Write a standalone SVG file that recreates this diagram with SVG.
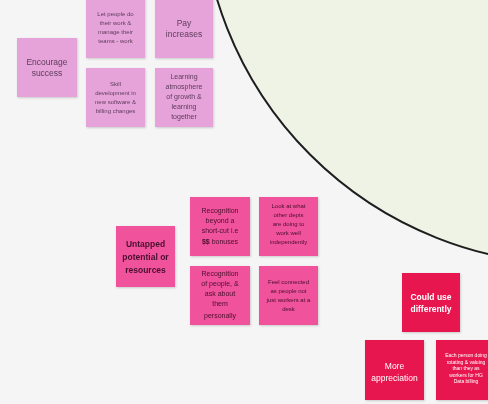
<svg xmlns="http://www.w3.org/2000/svg" width="488" height="404" viewBox="0 0 488 404">
<defs>
<style>
.lp{fill:#e6a3d9;}
.hp{fill:#f0529c;}
.rd{fill:#e8164f;}
.t{font-family:"Liberation Sans","DejaVu Sans",sans-serif;text-anchor:middle;}
.tl{fill:#5e3c5c;}
.th{fill:#4a0f2e;}
.tw{fill:#ffffff;}
.s6{font-size:6px;}
.s7{font-size:7px;}
.s8{font-size:8.5px;}
.b{font-weight:bold;}
</style>
<filter id="sh" x="-10%" y="-10%" width="130%" height="130%">
<feDropShadow dx="0.8" dy="1" stdDeviation="0.8" flood-color="#000" flood-opacity="0.18"/>
</filter>
</defs>
<rect width="488" height="404" fill="#f5f5f5"/>
<g id="circle">
<circle cx="574" cy="-109" r="373" fill="#eef3e6" stroke="#1e1e1e" stroke-width="2"/>
</g>
<g id="connectors"></g>
<g id="encourage-success" filter="url(#sh)">
<rect class="lp" x="17" y="38" width="60" height="59"/>
<text class="t tl s8" x="47" y="65">Encourage</text>
<text class="t tl s8" x="47" y="76">success</text>
</g>
<g id="let-people" filter="url(#sh)">
<rect class="lp" x="86" y="-2" width="59" height="60"/>
<text class="t tl s6" x="115.5" y="16">Let people do</text>
<text class="t tl s6" x="115.5" y="25">their work &amp;</text>
<text class="t tl s6" x="115.5" y="34">manage their</text>
<text class="t tl s6" x="115.5" y="43">teams - work</text>
</g>
<g id="pay-increases" filter="url(#sh)">
<rect class="lp" x="155" y="-2" width="58" height="60"/>
<text class="t tl s8" x="184" y="26">Pay</text>
<text class="t tl s8" x="184" y="37">increases</text>
</g>
<g id="skill-development" filter="url(#sh)">
<rect class="lp" x="86" y="68" width="59" height="59"/>
<text class="t tl s6" x="115.5" y="86">Skill</text>
<text class="t tl s6" x="115.5" y="95">development in</text>
<text class="t tl s6" x="115.5" y="104">new software &amp;</text>
<text class="t tl s6" x="115.5" y="113">billing changes</text>
</g>
<g id="learning-atmosphere" filter="url(#sh)">
<rect class="lp" x="155" y="68" width="58" height="59"/>
<text class="t tl s7" x="184" y="79">Learning</text>
<text class="t tl s7" x="184" y="89">atmosphere</text>
<text class="t tl s7" x="184" y="99">of growth &amp;</text>
<text class="t tl s7" x="184" y="109">learning</text>
<text class="t tl s7" x="184" y="119">together</text>
</g>
<g id="untapped" filter="url(#sh)">
<rect class="hp" x="116" y="226" width="59" height="61"/>
<text class="t th s8 b" x="145.5" y="247">Untapped</text>
<text class="t th s8 b" x="145.5" y="260">potential or</text>
<text class="t th s8 b" x="145.5" y="273">resources</text>
</g>
<g id="recognition-beyond" filter="url(#sh)">
<rect class="hp" x="190" y="197" width="60" height="59"/>
<text class="t th s7" x="220" y="213">Recognition</text>
<text class="t th s7" x="220" y="223">beyond a</text>
<text class="t th s7" x="220" y="233">short-cut i.e</text>
<text class="t th s7" x="220" y="244"><tspan font-weight="bold">$$</tspan> bonuses</text>
</g>
<g id="look-at-what" filter="url(#sh)">
<rect class="hp" x="259" y="197" width="59" height="59"/>
<text class="t th s6" x="288.5" y="208">Look at what</text>
<text class="t th s6" x="288.5" y="217">other depts</text>
<text class="t th s6" x="288.5" y="226">are doing to</text>
<text class="t th s6" x="288.5" y="235">work well</text>
<text class="t th s6" x="288.5" y="244">independently</text>
</g>
<g id="recognition-people" filter="url(#sh)">
<rect class="hp" x="190" y="266" width="60" height="59"/>
<text class="t th s7" x="220" y="276">Recognition</text>
<text class="t th s7" x="220" y="286">of people, &amp;</text>
<text class="t th s7" x="220" y="296">ask about</text>
<text class="t th s7" x="220" y="306">them</text>
<text class="t th s7" x="220" y="318">personally</text>
</g>
<g id="feel-connected" filter="url(#sh)">
<rect class="hp" x="259" y="266" width="59" height="59"/>
<text class="t th s6" x="288.5" y="284">Feel connected</text>
<text class="t th s6" x="288.5" y="293">as people not</text>
<text class="t th s6" x="288.5" y="302">just workers at a</text>
<text class="t th s6" x="288.5" y="311">desk</text>
</g>
<g id="could-use-differently" filter="url(#sh)">
<rect class="rd" x="402" y="273" width="58" height="59"/>
<text class="t tw s8 b" x="431" y="300">Could use</text>
<text class="t tw s8 b" x="431" y="312">differently</text>
</g>
<g id="more-appreciation" filter="url(#sh)">
<rect class="rd" x="365" y="340" width="59" height="60"/>
<text class="t tw s8" x="394.5" y="369">More</text>
<text class="t tw s8" x="394.5" y="381">appreciation</text>
</g>
<g id="each-person" filter="url(#sh)">
<rect class="rd" x="436" y="340" width="60" height="60"/>
<text class="t tw" font-size="5" x="466" y="357">Each person doing</text>
<text class="t tw" font-size="5" x="466" y="363.5">rotating &amp; valuing</text>
<text class="t tw" font-size="5" x="466" y="370">than they as</text>
<text class="t tw" font-size="5" x="466" y="376.5">workers for HG</text>
<text class="t tw" font-size="5" x="466" y="383">Data billing</text>
</g>
</svg>
